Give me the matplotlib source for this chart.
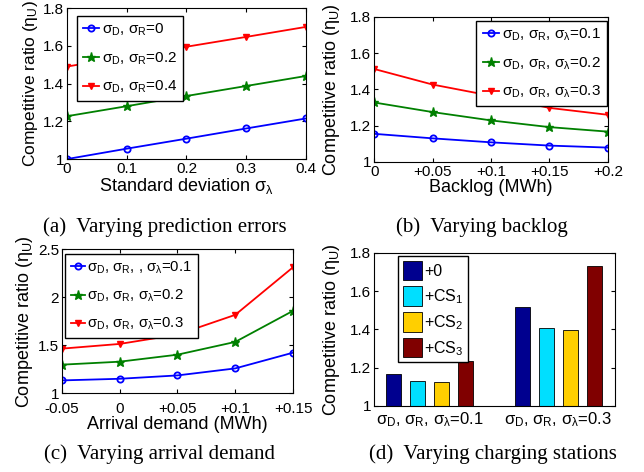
import numpy as np
import matplotlib.pyplot as plt

plt.rcParams['font.family'] = ['Liberation Sans', 'DejaVu Sans']
plt.rcParams['font.size'] = 11
plt.rcParams['mathtext.fontset'] = 'custom'
plt.rcParams['mathtext.rm'] = 'Liberation Sans'
plt.rcParams['mathtext.it'] = 'Liberation Sans'
plt.rcParams['mathtext.default'] = 'rm'
plt.rcParams['xtick.direction'] = 'in'
plt.rcParams['ytick.direction'] = 'in'
plt.rcParams['xtick.top'] = True
plt.rcParams['ytick.right'] = True
plt.rcParams['xtick.major.size'] = 3
plt.rcParams['ytick.major.size'] = 3
plt.rcParams['xtick.major.pad'] = 2
plt.rcParams['ytick.major.pad'] = 2
plt.rcParams['axes.linewidth'] = 0.8
plt.rcParams['axes.labelsize'] = 13

# (a) prediction errors
sigma_lam = [0, 0.1, 0.2, 0.3, 0.4]
a_s0 = [1.0, 1.055, 1.108, 1.162, 1.215]
a_s02 = [1.227, 1.28, 1.334, 1.387, 1.44]
a_s04 = [1.49, 1.543, 1.595, 1.647, 1.70]

# (b) backlog
backlog = [0, 0.05, 0.1, 0.15, 0.2]
backlog_labels = ['0', '+0.05', '+0.1', '+0.15', '+0.2']
b_s01 = [1.155, 1.13, 1.108, 1.09, 1.079]
b_s02 = [1.328, 1.275, 1.229, 1.192, 1.167]
b_s03 = [1.513, 1.427, 1.365, 1.298, 1.26]

# (c) arrival demand
demand = [-0.05, 0, 0.05, 0.1, 0.15]
demand_labels = ['-0.05', '0', '+0.05', '+0.1', '+0.15']
c_s01 = [1.133, 1.15, 1.185, 1.258, 1.422]
c_s02 = [1.297, 1.328, 1.401, 1.534, 1.858]
c_s03 = [1.464, 1.513, 1.61, 1.816, 2.312]

# (d) charging stations
groups = ['σ$_\\mathrm{D}$, σ$_\\mathrm{R}$, σ$_\\lambda$=0.1',
          'σ$_\\mathrm{D}$, σ$_\\mathrm{R}$, σ$_\\lambda$=0.3']
cs_names = ['+0', '+CS$_1$', '+CS$_2$', '+CS$_3$']
cs_vals = [[1.167, 1.515], [1.128, 1.408], [1.127, 1.397], [1.233, 1.733]]
cs_colors = ['#00008F', '#00DFFF', '#FFCF00', '#800000']

ylab = 'Competitive ratio (η$_\\mathrm{U}$)'
lw = 1.3
ms = 4.5

fig = plt.figure(figsize=(6.44, 4.72), dpi=100)
ax1 = fig.add_axes([0.104, 0.663, 0.371, 0.320])
ax2 = fig.add_axes([0.581, 0.657, 0.363, 0.307])
ax3 = fig.add_axes([0.096, 0.167, 0.359, 0.305])
ax4 = fig.add_axes([0.581, 0.140, 0.374, 0.324])


def lines(ax, x, ys, labels):
    ax.plot(x, ys[0], color='b', marker='o', mfc='none', mew=1.3, ms=ms, lw=lw, label=labels[0])
    ax.plot(x, ys[1], color='#008000', marker='*', ms=ms + 2, lw=lw, label=labels[1])
    ax.plot(x, ys[2], color='r', marker='v', ms=ms + 0.5, lw=lw, label=labels[2])


leg_kw = dict(fancybox=False, edgecolor='k', framealpha=1, handlelength=1.1,
              handletextpad=0.15, borderpad=0.4, labelspacing=0.8,
              borderaxespad=0, fontsize=11)

# (a)
lines(ax1, sigma_lam, [a_s0, a_s02, a_s04],
      ['σ$_\\mathrm{D}$, σ$_\\mathrm{R}$=0', 'σ$_\\mathrm{D}$, σ$_\\mathrm{R}$=0.2',
       'σ$_\\mathrm{D}$, σ$_\\mathrm{R}$=0.4'])
ax1.set_xlim(0, 0.4)
ax1.set_ylim(1, 1.8)
ax1.set_xticks(sigma_lam)
ax1.set_xticklabels(['0', '0.1', '0.2', '0.3', '0.4'])
ax1.set_yticks([1, 1.2, 1.4, 1.6, 1.8])
ax1.set_yticklabels(['1', '1.2', '1.4', '1.6', '1.8'])
ax1.set_xlabel('Standard deviation σ$_\\lambda$', labelpad=0)
ax1.set_ylabel(ylab, labelpad=2, fontsize=12.5)
ax1.legend(loc='upper left', bbox_to_anchor=(0.04, 0.95), **leg_kw)

# (b)
lines(ax2, backlog, [b_s01, b_s02, b_s03],
      ['σ$_\\mathrm{D}$, σ$_\\mathrm{R}$, σ$_\\lambda$=0.1',
       'σ$_\\mathrm{D}$, σ$_\\mathrm{R}$, σ$_\\lambda$=0.2',
       'σ$_\\mathrm{D}$, σ$_\\mathrm{R}$, σ$_\\lambda$=0.3'])
ax2.set_xlim(0, 0.2)
ax2.set_ylim(1, 1.8)
ax2.set_xticks(backlog)
ax2.set_xticklabels(backlog_labels)
ax2.set_yticks([1, 1.2, 1.4, 1.6, 1.8])
ax2.set_yticklabels(['1', '1.2', '1.4', '1.6', '1.8'])
ax2.set_xlabel('Backlog (MWh)', labelpad=0)
ax2.set_ylabel(ylab, labelpad=6)
ax2.legend(loc='upper right', bbox_to_anchor=(0.995, 0.975), **leg_kw)

# (c)
lines(ax3, demand, [c_s01, c_s02, c_s03],
      ['σ$_\\mathrm{D}$, σ$_\\mathrm{R}$, , σ$_\\lambda$=0.1',
       'σ$_\\mathrm{D}$, σ$_\\mathrm{R}$, σ$_\\lambda$=0.2',
       'σ$_\\mathrm{D}$, σ$_\\mathrm{R}$, σ$_\\lambda$=0.3'])
ax3.set_xlim(-0.05, 0.15)
ax3.set_ylim(1, 2.5)
ax3.set_xticks(demand)
ax3.set_xticklabels(demand_labels)
ax3.set_yticks([1, 1.5, 2, 2.5])
ax3.set_yticklabels(['1', '1.5', '2', '2.5'])
ax3.tick_params(axis='x', pad=6)
ax3.set_xlabel('Arrival demand (MWh)', labelpad=0)
ax3.set_ylabel(ylab, labelpad=2)
ax3.legend(loc='upper left', bbox_to_anchor=(0.015, 0.97),
           **dict(leg_kw, handlelength=0.9, fontsize=10.7))

# (d)
gx = np.arange(1, len(groups) + 1)
pitch = 0.186
for i, (name, vals, col) in enumerate(zip(cs_names, cs_vals, cs_colors)):
    ax4.bar(gx + (i - 1.5) * pitch, np.array(vals) - 1, bottom=1, width=0.115,
            color=col, edgecolor='k', lw=0.6, label=name)
ax4.set_xlim(0.57, 2.44)
ax4.set_ylim(1, 1.8)
ax4.set_xticks(gx)
ax4.set_xticklabels(groups, fontsize=12)
ax4.set_yticks([1, 1.2, 1.4, 1.6, 1.8])
ax4.set_yticklabels(['1', '1.2', '1.4', '1.6', '1.8'])
ax4.tick_params(axis='x', length=0, pad=3)
ax4.set_ylabel(ylab, labelpad=6)
ax4.legend(loc='upper left', bbox_to_anchor=(0.1, 0.98), fancybox=False,
           edgecolor='k', framealpha=1, handlelength=1.2, handleheight=1.5,
           handletextpad=0.1, borderpad=0.3, labelspacing=0.38,
           borderaxespad=0, fontsize=11.5)

# captions
cap = dict(family='Liberation Serif', fontsize=15, ha='center', va='center')
fig.text(165 / 644, 1 - 227 / 472, '(a)  Varying prediction errors', **cap)
fig.text(482 / 644, 1 - 227 / 472, '(b)  Varying backlog', **cap)
fig.text(160 / 644, 1 - 454 / 472, '(c)  Varying arrival demand', **cap)
fig.text(493 / 644, 1 - 454 / 472, '(d)  Varying charging stations', **cap)

fig.savefig('out.png', dpi=100)
